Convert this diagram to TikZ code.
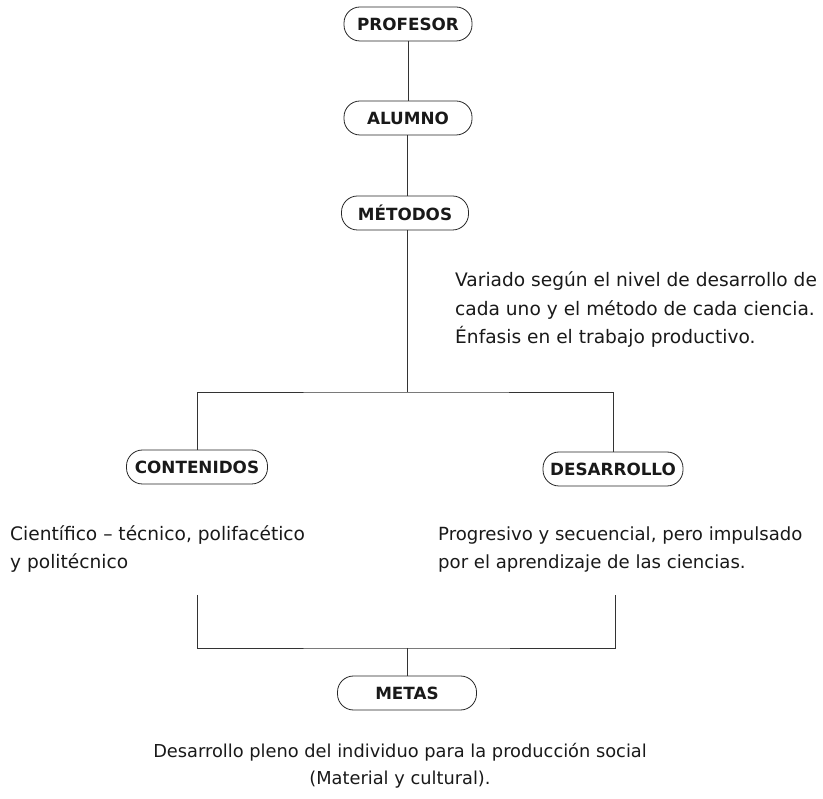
\documentclass[tikz,border=0pt]{standalone}
\usepackage{fontspec}
\setmainfont{DejaVu Sans}
\begin{document}
\begin{tikzpicture}[x=1pt,y=-1pt,
  pill/.style={draw=black!85, line width=0.8pt, rounded corners=16pt,
    minimum height=34pt, inner sep=0pt, font=\fontsize{16.8}{20}\selectfont\bfseries, text=black!90},
  link/.style={draw=black!80, line width=0.8pt},
  note/.style={font=\fontsize{18.6}{28.5}\selectfont, text=black!90, align=left, inner sep=0pt}]
\useasboundingbox (0,0) rectangle (823,799);

% main chain
\node[pill, minimum width=128pt] (profesor) at (408,24) {PROFESOR};
\node[pill, minimum width=128pt] (alumno) at (408,118) {ALUMNO};
\node[pill, minimum width=127pt] (metodos) at (405,213) {MÉTODOS};

% multi-line notes are placed by the baseline of their last line
\node[note, anchor=base west] (metnote) at (455,344)
  {Variado según el nivel de desarrollo de\\cada uno y el método de cada ciencia.\\Énfasis en el trabajo productivo.};

% branches
\node[pill, minimum width=141pt] (contenidos) at (197,467) {CONTENIDOS};
\node[pill, minimum width=140pt] (desarrollo) at (613,469) {DESARROLLO};

\node[note, anchor=base west] (connote) at (10,569)
  {Científico – técnico, polifacético\\y politécnico};
\node[note, anchor=base west, font=\fontsize{18.1}{28.5}\selectfont] (desnote) at (438,569)
  {Progresivo y secuencial, pero impulsado\\por el aprendizaje de las ciencias.};

\node[pill, minimum width=139pt] (metas) at (407,693) {METAS};
\node[note, align=center, anchor=base, font=\fontsize{17.8}{27}\selectfont] (metnote2) at (400,784)
  {Desarrollo pleno del individuo para la producción social\\(Material y cultural).};

% connectors
\coordinate (j1) at (407,392);
\coordinate (cl) at (197,595);
\coordinate (cr) at (615,595);
\coordinate (j2) at (407,648);

\draw[link] (profesor) -- (alumno);
\draw[link] (j1 |- alumno.south) -- (j1 |- metodos.north);
\draw[link] (j1 |- metodos.south) -- (j1);
\draw[link] (contenidos.north) |- (j1) -| (desarrollo.north);
\draw[link] (cl) |- (j2) -| (cr);
\draw[link] (j2) -- (metas);
\end{tikzpicture}
\end{document}
